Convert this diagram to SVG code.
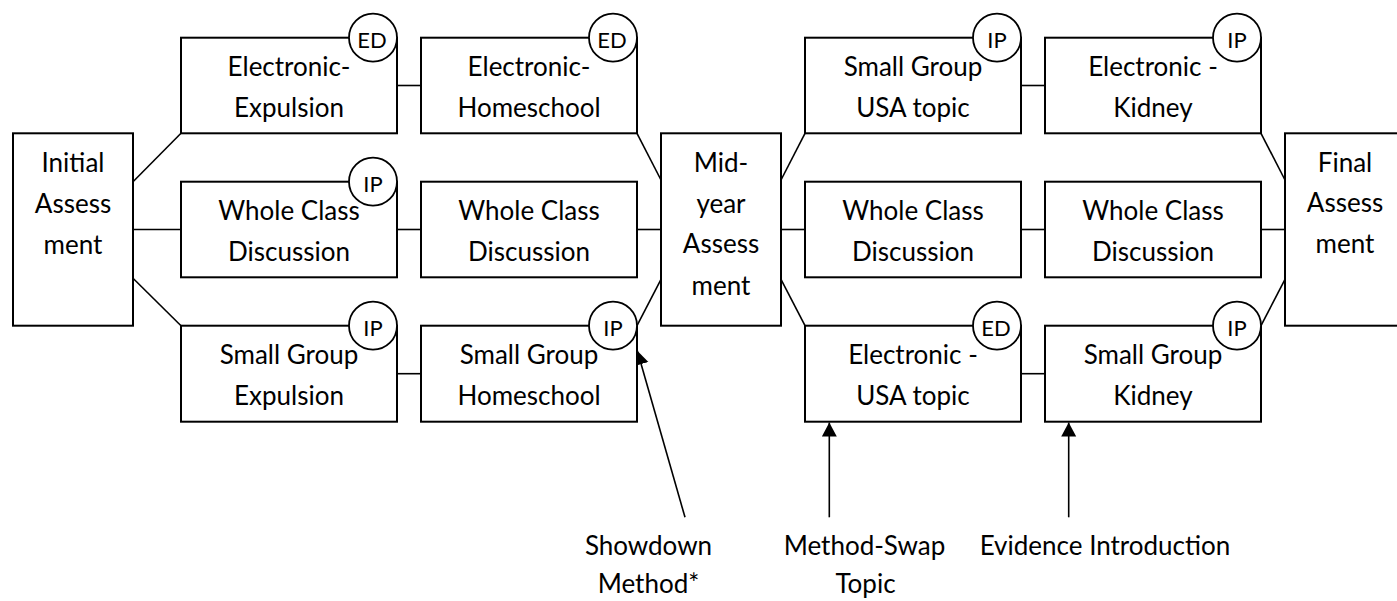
<svg xmlns="http://www.w3.org/2000/svg" width="1397" height="601" viewBox="0 0 1397 601">
<style>
text{font-family:Lato,"Open Sans","Liberation Sans",sans-serif;font-size:26px;fill:#000;text-anchor:middle}
.box{fill:#fff;stroke:#000;stroke-width:2}
.tag{fill:#fff;stroke:#000;stroke-width:1.8}
.tt{font-size:22px}
.con{stroke:#000;stroke-width:1.6;fill:none}
.arr{stroke:#000;stroke-width:1.6;fill:none;marker-end:url(#ah)}
</style>
<defs>
<marker id="ah" markerUnits="userSpaceOnUse" markerWidth="16" markerHeight="16" refX="14" refY="7.5" orient="auto">
<path d="M0,0 L14,7.5 L0,15 Z" fill="#000"/>
</marker>
</defs>
<rect width="1397" height="601" fill="#fff"/>
<g id="connectors">
<line class="con" x1="133" y1="181.7" x2="181" y2="133.3"/>
<line class="con" x1="133" y1="229.5" x2="181" y2="229.5"/>
<line class="con" x1="133" y1="278.3" x2="181" y2="325.7"/>
<line class="con" x1="397" y1="85.5" x2="421" y2="85.5"/>
<line class="con" x1="397" y1="229.5" x2="421" y2="229.5"/>
<line class="con" x1="397" y1="373.7" x2="421" y2="373.7"/>
<line class="con" x1="637" y1="133.3" x2="661" y2="180"/>
<line class="con" x1="637" y1="229.5" x2="661" y2="229.5"/>
<line class="con" x1="661" y1="279.3" x2="637" y2="325.7"/>
<line class="con" x1="781" y1="180" x2="805" y2="133.3"/>
<line class="con" x1="781" y1="229.5" x2="805" y2="229.5"/>
<line class="con" x1="781" y1="279.3" x2="805" y2="325.7"/>
<line class="con" x1="1021" y1="85.5" x2="1045" y2="85.5"/>
<line class="con" x1="1021" y1="229.5" x2="1045" y2="229.5"/>
<line class="con" x1="1021" y1="373.7" x2="1045" y2="373.7"/>
<line class="con" x1="1261" y1="133.3" x2="1285" y2="180"/>
<line class="con" x1="1261" y1="229.5" x2="1285" y2="229.5"/>
<line class="con" x1="1285" y1="279.3" x2="1261" y2="325.7"/>
<line class="arr" x1="685" y1="517.3" x2="637.3" y2="350.7"/>
<line class="arr" x1="829.3" y1="517.3" x2="829.3" y2="422.5"/>
<line class="arr" x1="1068.7" y1="517.3" x2="1068.7" y2="422.5"/>
</g>
<g id="initial">
<rect class="box" x="13" y="133.3" width="120" height="192.4"/>
<text x="73" y="171.7">Initial</text>
<text x="73" y="212.7">Assess</text>
<text x="73" y="254">ment</text>
</g>
<g id="n-c1r1">
<rect class="box" x="181" y="37.7" width="216" height="95.6"/>
<text x="289" y="76">Electronic-</text>
<text x="289" y="116.7">Expulsion</text>
<circle class="tag" cx="373" cy="37.7" r="24"/>
<text class="tt" x="372" y="48.3">ED</text>
</g>
<g id="n-c1r2">
<rect class="box" x="181" y="181.7" width="216" height="95.6"/>
<text x="289" y="220">Whole Class</text>
<text x="289" y="261">Discussion</text>
<circle class="tag" cx="373" cy="181.7" r="24"/>
<text class="tt" x="373" y="192.3">IP</text>
</g>
<g id="n-c1r3">
<rect class="box" x="181" y="325.7" width="216" height="96"/>
<text x="289" y="364">Small Group</text>
<text x="289" y="405">Expulsion</text>
<circle class="tag" cx="373" cy="325.7" r="24"/>
<text class="tt" x="373" y="336.3">IP</text>
</g>
<g id="n-c2r1">
<rect class="box" x="421" y="37.7" width="216" height="95.6"/>
<text x="529" y="76">Electronic-</text>
<text x="529" y="116.7">Homeschool</text>
<circle class="tag" cx="613" cy="37.7" r="24"/>
<text class="tt" x="612" y="48.3">ED</text>
</g>
<g id="n-c2r2">
<rect class="box" x="421" y="181.7" width="216" height="95.6"/>
<text x="529" y="220">Whole Class</text>
<text x="529" y="261">Discussion</text>
</g>
<g id="n-c2r3">
<rect class="box" x="421" y="325.7" width="216" height="96"/>
<text x="529" y="364">Small Group</text>
<text x="529" y="405">Homeschool</text>
<circle class="tag" cx="613" cy="325.7" r="24"/>
<text class="tt" x="613" y="336.3">IP</text>
</g>
<g id="midyear">
<rect class="box" x="661" y="133.3" width="120" height="192.4"/>
<text x="721" y="171.7">Mid-</text>
<text x="721" y="212.5">year</text>
<text x="721" y="253.3">Assess</text>
<text x="721" y="295">ment</text>
</g>
<g id="n-c3r1">
<rect class="box" x="805" y="37.7" width="216" height="95.6"/>
<text x="913" y="76">Small Group</text>
<text x="913" y="116.7">USA topic</text>
<circle class="tag" cx="997" cy="37.7" r="24"/>
<text class="tt" x="997" y="48.3">IP</text>
</g>
<g id="n-c3r2">
<rect class="box" x="805" y="181.7" width="216" height="95.6"/>
<text x="913" y="220">Whole Class</text>
<text x="913" y="261">Discussion</text>
</g>
<g id="n-c3r3">
<rect class="box" x="805" y="325.7" width="216" height="96"/>
<text x="913" y="364">Electronic -</text>
<text x="913" y="405">USA topic</text>
<circle class="tag" cx="997" cy="325.7" r="24"/>
<text class="tt" x="996" y="336.3">ED</text>
</g>
<g id="n-c4r1">
<rect class="box" x="1045" y="37.7" width="216" height="95.6"/>
<text x="1153" y="76">Electronic -</text>
<text x="1153" y="116.7">Kidney</text>
<circle class="tag" cx="1237" cy="37.7" r="24"/>
<text class="tt" x="1237" y="48.3">IP</text>
</g>
<g id="n-c4r2">
<rect class="box" x="1045" y="181.7" width="216" height="95.6"/>
<text x="1153" y="220">Whole Class</text>
<text x="1153" y="261">Discussion</text>
</g>
<g id="n-c4r3">
<rect class="box" x="1045" y="325.7" width="216" height="96"/>
<text x="1153" y="364">Small Group</text>
<text x="1153" y="405">Kidney</text>
<circle class="tag" cx="1237" cy="325.7" r="24"/>
<text class="tt" x="1237" y="336.3">IP</text>
</g>
<g id="final">
<rect class="box" x="1285" y="133.3" width="121" height="192.4"/>
<text x="1345" y="171.7">Final</text>
<text x="1345" y="212">Assess</text>
<text x="1345" y="253.3">ment</text>
</g>
<g id="labels">
<text x="648.5" y="555">Showdown</text>
<text x="648.5" y="593.3">Method*</text>
<text x="864.5" y="555">Method-Swap</text>
<text x="865.5" y="593.3">Topic</text>
<text x="1105" y="555">Evidence Introduction</text>
</g>
</svg>
